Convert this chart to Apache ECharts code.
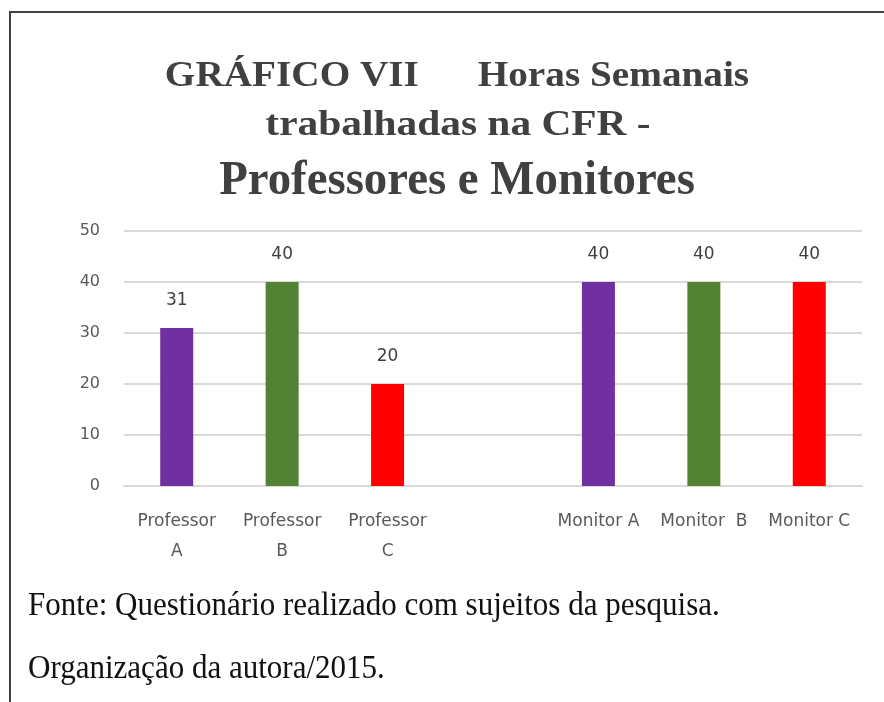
<!DOCTYPE html>
<html>
<head>
<meta charset="utf-8">
<script src="https://cdn.jsdelivr.net/npm/echarts@6/dist/echarts.min.js"></script>
<style>
  html, body { margin: 0; padding: 0; background: #fff; }
  #chart { width: 884px; height: 702px; }
</style>
</head>
<body>
<div id="chart"></div>
<script>
// categories (one empty slot separates the two groups)
var categories = ["Professor\nA", "Professor\nB", "Professor\nC", "", "Monitor A", "Monitor  B", "Monitor C"];
var hours = [31, 40, 20, "-", 40, 40, 40];
var barColors = ["#7030a0", "#548235", "#ff0000", "#ffffff", "#7030a0", "#548235", "#ff0000"];
var yTicks = { min: 0, max: 50, interval: 10 };

var chart = echarts.init(document.getElementById("chart"));

var serif = "'Liberation Serif', 'DejaVu Serif', serif";
var sans = "'DejaVu Sans', sans-serif";

var option = {
  backgroundColor: "#fff",
  animation: false,
  grid: {
    left: 124,
    right: 22,
    top: 231,
    bottom: 216,
    containLabel: false
  },
  xAxis: {
    type: "category",
    data: categories,
    axisTick: { show: false },
    axisLine: { lineStyle: { color: "#d9d9d9", width: 2 } },
    axisLabel: {
      interval: 0,
      color: "#595959",
      fontFamily: sans,
      fontSize: 17,
      lineHeight: 30,
      margin: 21
    }
  },
  yAxis: {
    type: "value",
    min: yTicks.min,
    max: yTicks.max,
    interval: yTicks.interval,
    axisLine: { show: false },
    axisTick: { show: false },
    axisLabel: {
      color: "#595959",
      fontFamily: sans,
      fontSize: 16,
      margin: 24
    },
    splitLine: { lineStyle: { color: "#d9d9d9", width: 2 } }
  },
  series: [
    {
      type: "bar",
      barWidth: 33,
      data: hours.map(function (v, i) {
        return { value: v, itemStyle: { color: barColors[i] } };
      }),
      label: {
        show: true,
        position: "top",
        distance: 19,
        color: "#404040",
        fontFamily: sans,
        fontSize: 17
      }
    }
  ],
  graphic: [
    {
      type: "rect",
      shape: { x: 10, y: 12, width: 900, height: 720 },
      style: { fill: null, stroke: "#404040", lineWidth: 2 },
      silent: true
    },
    {
      type: "text", x: 457, y: 77, scaleX: 1.09,
      style: { text: "GRÁFICO VII      Horas Semanais", font: "bold 36px " + serif, fill: "#404040", align: "center", verticalAlign: "middle" }
    },
    {
      type: "text", x: 458, y: 126, scaleX: 1.15,
      style: { text: "trabalhadas na CFR -", font: "bold 36px " + serif, fill: "#404040", align: "center", verticalAlign: "middle" }
    },
    {
      type: "text", x: 457, y: 182, scaleX: 0.975,
      style: { text: "Professores e Monitores", font: "bold 48px " + serif, fill: "#404040", align: "center", verticalAlign: "middle" }
    },
    {
      type: "text", x: 28, y: 606, scaleX: 0.94,
      style: { text: "Fonte: Questionário realizado com sujeitos da pesquisa.", font: "33px " + serif, fill: "#111", align: "left", verticalAlign: "middle" }
    },
    {
      type: "text", x: 28, y: 669, scaleX: 0.94,
      style: { text: "Organização da autora/2015.", font: "33px " + serif, fill: "#111", align: "left", verticalAlign: "middle" }
    }
  ]
};

chart.setOption(option);
</script>
</body>
</html>
